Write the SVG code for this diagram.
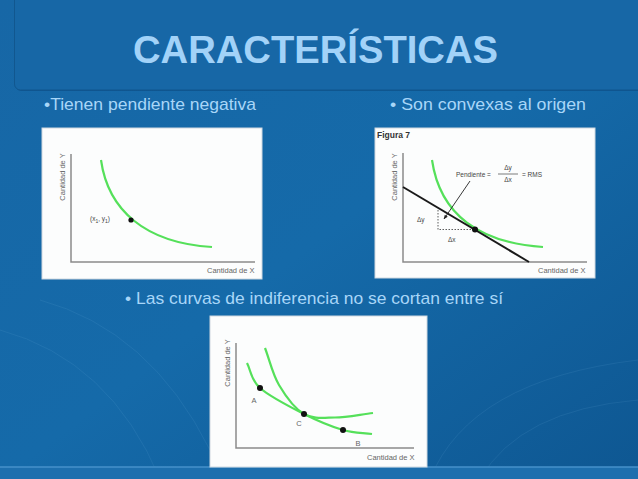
<svg xmlns="http://www.w3.org/2000/svg" width="638" height="479" viewBox="0 0 638 479">
<defs>
<linearGradient id="bg" x1="0" y1="0" x2="1" y2="1">
<stop offset="0" stop-color="#1767a6"/>
<stop offset="0.5" stop-color="#156aa9"/>
<stop offset="1" stop-color="#0e5792"/>
</linearGradient>
<marker id="arr" viewBox="0 0 10 10" refX="9" refY="5" markerWidth="5" markerHeight="5" orient="auto">
<path d="M0,1 L10,5 L0,9 z" fill="#222"/>
</marker>
<style>
.ttl{font-family:"Liberation Sans",Arial,sans-serif;font-weight:bold;font-size:39px;fill:#a2d2f8}
.bul{font-family:"Liberation Sans",Arial,sans-serif;font-size:17px;fill:#a8d6f8}
.pan{fill:#fcfdfd;stroke:#cfd8e0;stroke-width:1}
.ax{fill:none;stroke:#8a8a8a;stroke-width:1.5}
.crv{fill:none;stroke:#55e05a;stroke-width:2.2}
.lab{font-family:"Liberation Sans",Arial,sans-serif;font-size:7.5px;fill:#666}
.sm{font-family:"Liberation Sans",Arial,sans-serif;font-size:6.5px;fill:#444}
.dot{fill:#111}
.arc{fill:none;stroke:#8cc4ee;stroke-opacity:0.1;stroke-width:1}
</style>
</defs>
<rect width="638" height="479" fill="url(#bg)"/>
<g id="decor">
<path class="arc" d="M40,300 Q150,330 210,450"/>
<path class="arc" d="M0,330 Q110,360 160,479"/>
<path class="arc" d="M430,479 Q470,380 638,360"/>
<path class="arc" d="M480,479 Q520,410 638,400"/>
</g>
<rect x="-1" y="466.5" width="640" height="13" fill="#1d6fae"/>
<line x1="0" y1="467" x2="638" y2="467" stroke="#5aa2d8" stroke-width="1"/>
<g id="title">
<rect x="15.5" y="-9" width="640" height="100" rx="6" fill="#0b4a7e" opacity="0.6"/>
<rect x="14.5" y="-10" width="640" height="100" rx="6" fill="#1767a6" stroke="#11578f" stroke-width="1"/>
<text class="ttl" x="133" y="63" textLength="365" lengthAdjust="spacingAndGlyphs">CARACTERÍSTICAS</text>
</g>
<g id="bullets">
<text class="bul" x="44" y="110" textLength="212" lengthAdjust="spacingAndGlyphs">•Tienen pendiente negativa</text>
<text class="bul" x="390" y="110" textLength="196" lengthAdjust="spacingAndGlyphs">• Son convexas al origen</text>
<text class="bul" x="125" y="304" textLength="378" lengthAdjust="spacingAndGlyphs">• Las curvas de indiferencia no se cortan entre sí</text>
</g>
<g id="panel1">
<rect class="pan" x="42" y="128" width="220" height="151"/>
<path class="ax" d="M71,154 V262 H255"/>
<path class="crv" d="M101,160 C108,210 145,243 212,247"/>
<circle class="dot" cx="131" cy="220" r="2.6"/>
<text class="sm" x="90" y="221">(x<tspan font-size="5" dy="1.5">1</tspan><tspan dy="-1.5">, y</tspan><tspan font-size="5" dy="1.5">1</tspan><tspan dy="-1.5">)</tspan></text>
<text class="lab" transform="translate(65,177) rotate(-90)" text-anchor="middle">Cantidad de Y</text>
<text class="lab" x="207" y="273">Cantidad de X</text>
</g>
<g id="panel2">
<rect class="pan" x="375" y="128" width="220" height="150"/>
<text x="377" y="138" font-family="Liberation Sans,Arial,sans-serif" font-size="8.5" font-weight="bold" fill="#333">Figura 7</text>
<path class="ax" d="M403,153 V262 H587"/>
<path class="crv" d="M432,160 C440,215 480,243 543,247"/>
<line x1="403" y1="187" x2="529" y2="262" stroke="#1a1a1a" stroke-width="2"/>
<path d="M438,210 V229.5 H475" fill="none" stroke="#333" stroke-width="0.8" stroke-dasharray="1.5,1.5"/>
<circle class="dot" cx="475" cy="229.5" r="3"/>
<line x1="470" y1="181" x2="444" y2="219" stroke="#222" stroke-width="0.9" marker-end="url(#arr)"/>
<text class="sm" x="417" y="222">Δy</text>
<text class="sm" x="448" y="242">Δx</text>
<text class="sm" x="456" y="177">Pendiente =</text>
<text class="sm" x="508" y="170" text-anchor="middle">Δy</text>
<line x1="498" y1="174" x2="518" y2="174" stroke="#444" stroke-width="0.7"/>
<text class="sm" x="508" y="182" text-anchor="middle">Δx</text>
<text class="sm" x="522" y="177">= RMS</text>
<text class="lab" transform="translate(397,177) rotate(-90)" text-anchor="middle">Cantidad de Y</text>
<text class="lab" x="538" y="273">Cantidad de X</text>
</g>
<g id="panel3">
<rect class="pan" x="210" y="316" width="217" height="151"/>
<path class="ax" d="M236,343 V448 H414"/>
<path class="crv" d="M247,363 C251.3,371.3 250.5,379.5 260,388 C269.5,396.5 290.2,407 304,414 C317.8,421 331.7,426.7 343,430 C354.3,433.3 362.3,432.7 372,434"/>
<path class="crv" d="M265,348 C269.7,360.3 272.5,374 279,385 C285.5,396 294.7,408.6 304,414 C313.3,419.4 323.5,417.7 335,417.5 C346.5,417.3 360.3,414.5 373,413"/>
<circle class="dot" cx="260" cy="388" r="3"/>
<circle class="dot" cx="304" cy="414" r="3"/>
<circle class="dot" cx="343" cy="430" r="3"/>
<text class="lab" x="254" y="403" text-anchor="middle">A</text>
<text class="lab" x="299" y="426" text-anchor="middle">C</text>
<text class="lab" x="358" y="446" text-anchor="middle">B</text>
<text class="lab" transform="translate(230,363) rotate(-90)" text-anchor="middle">Cantidad de Y</text>
<text class="lab" x="367" y="460">Cantidad de X</text>
</g>
</svg>
